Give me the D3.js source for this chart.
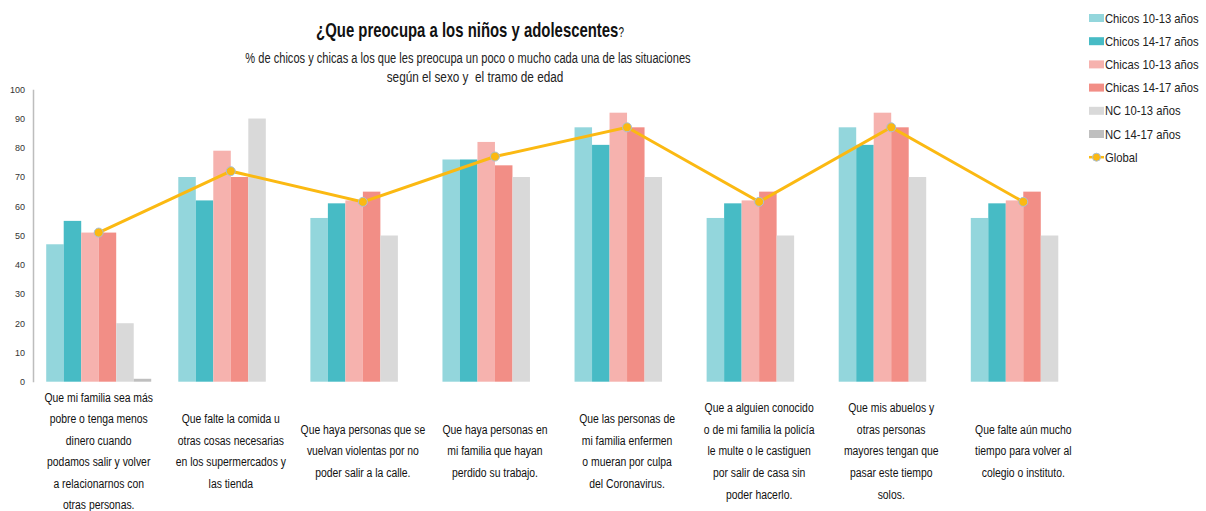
<!DOCTYPE html>
<html>
<head>
<meta charset="utf-8">
<title>¿Que preocupa a los niños y adolescentes?</title>
<style>
body { margin: 0; background: #fff; }
svg { font-family: "Liberation Sans", Arial, sans-serif; }
.tick-label { font-size: 9px; fill: #333; }
.cat-label { font-size: 13.5px; fill: #111; }
.legend text { font-size: 12.5px; fill: #222; }
</style>
</head>
<body>
<script src="https://cdn.jsdelivr.net/npm/d3@7"></script>
<script>

// chart data
const categories = [
  ["Que mi familia sea más", "pobre o tenga menos", "dinero cuando", "podamos salir y volver", "a relacionarnos con", "otras personas."],
  ["Que falte la comida u", "otras cosas necesarias", "en los supermercados y", "las tienda"],
  ["Que haya personas que se", "vuelvan violentas por no", "poder salir a la calle."],
  ["Que haya personas en", "mi familia que hayan", "perdido su trabajo."],
  ["Que las personas de", "mi familia enfermen", "o mueran por culpa", "del Coronavirus."],
  ["Que a alguien conocido", "o de mi familia la policía", "le multe o le castiguen", "por salir de casa sin", "poder hacerlo."],
  ["Que mis abuelos y", "otras personas", "mayores tengan que", "pasar este tiempo", "solos."],
  ["Que falte aún mucho", "tiempo para volver al", "colegio o instituto."]
];
const seriesNames = ["Chicos 10-13 años", "Chicos 14-17 años", "Chicas 10-13 años", "Chicas 14-17 años", "NC 10-13 años", "NC 14-17 años"];
const seriesColors = ["#93d6dc", "#47bbc5", "#f6b2ae", "#f28e86", "#d9d9d9", "#bfbfbf"];

const chicos1013 = [47, 70, 56, 76, 87, 56, 87, 56];
const chicos1417 = [55, 62, 61, 76, 81, 61, 81, 61];
const chicas1013 = [51, 79, 62, 82, 92, 62, 92, 62];
const chicas1417 = [51, 70, 65, 74, 87, 65, 87, 65];
const nc1013     = [20, 90, 50, 70, 70, 50, 70, 50];
const nc1417     = [1, 0, 0, 0, 0, 0, 0, 0];
const globalVals = [51, 72, 61.5, 77, 87, 61.5, 87, 61.5];

const yTicks = [0, 10, 20, 30, 40, 50, 60, 70, 80, 90, 100];

const series = [chicos1013, chicos1417, chicas1013, chicas1417, nc1013, nc1417];

const width = 1206, height = 511;

const svg = d3.select("body").append("svg")
    .attr("width", width)
    .attr("height", height);

// scales
const x0 = d3.scaleBand()
    .domain(d3.range(categories.length))
    .range([33, 1089])
    .paddingInner(0.205)
    .paddingOuter(0.1);

const x1 = d3.scaleBand()
    .domain(d3.range(series.length))
    .range([0, x0.bandwidth()]);

const y = d3.scaleLinear()
    .domain([0, 100])
    .range([381.7, 89.3]);

// y axis
const yAxis = svg.append("g")
    .attr("transform", "translate(33,0)")
    .call(d3.axisLeft(y).tickValues(yTicks).tickSize(0).tickPadding(8));
yAxis.select(".domain").attr("stroke", "#bdbdbd").attr("stroke-width", 1.5);
yAxis.selectAll("text").attr("class", "tick-label").attr("font-family", null).attr("font-size", null);

// bars
const groups = svg.append("g").selectAll("g")
    .data(categories.map((c, i) => i))
    .join("g")
    .attr("transform", i => "translate(" + x0(i) + ",0)");

groups.selectAll("rect")
    .data(i => series.map((s, k) => ({k: k, v: s[i]})))
    .join("rect")
    .attr("x", d => x1(d.k))
    .attr("width", x1.bandwidth())
    .attr("y", d => y(d.v))
    .attr("height", d => y(0) - y(d.v))
    .attr("fill", d => seriesColors[d.k]);

// global line
const cx = i => x0(i) + x0.bandwidth() / 2;
svg.append("path")
    .datum(globalVals)
    .attr("fill", "none")
    .attr("stroke", "#fbb912")
    .attr("stroke-width", 3)
    .attr("d", d3.line().x((d, i) => cx(i)).y(d => y(d)));

svg.append("g").selectAll("circle")
    .data(globalVals)
    .join("circle")
    .attr("cx", (d, i) => cx(i))
    .attr("cy", d => y(d))
    .attr("r", 4.5)
    .attr("fill", "#fbb912")
    .attr("stroke", "#a9bfd6")
    .attr("stroke-width", 1);

// category labels (condensed horizontally)
const lineH = 21.6;
svg.append("g").selectAll("text")
    .data(categories)
    .join("text")
    .attr("class", "cat-label")
    .attr("text-anchor", "middle")
    .attr("transform", (d, i) => "translate(" + cx(i) + "," + (451 - (d.length - 1) * lineH / 2 + 4.5) + ") scale(0.77,1)")
    .selectAll("tspan")
    .data(d => d)
    .join("tspan")
    .attr("x", 0)
    .attr("y", (d, j) => j * lineH)
    .text(d => d);

// title
const title = svg.append("text")
    .attr("transform", "translate(470,37) scale(0.71,1)")
    .attr("text-anchor", "middle")
    .attr("fill", "#111");
title.append("tspan")
    .attr("font-size", "21px")
    .attr("font-weight", "bold")
    .text("¿Que preocupa a los niños y adolescentes");
title.append("tspan")
    .attr("font-size", "14px")
    .text("?");

svg.append("text")
    .attr("transform", "translate(468,63) scale(0.715,1)")
    .attr("text-anchor", "middle")
    .attr("font-size", "15.5px")
    .attr("fill", "#222")
    .text("% de chicos y chicas a los que les preocupa un poco o mucho cada una de las situaciones");
svg.append("text")
    .attr("transform", "translate(475,82) scale(0.76,1)")
    .attr("text-anchor", "middle")
    .attr("font-size", "15.5px")
    .attr("fill", "#222")
    .style("white-space", "pre")
    .text("según el sexo y  el tramo de edad");

// legend
const legend = svg.append("g").attr("class", "legend");
const legendNames = seriesNames.concat(["Global"]);
const ly = i => 18 + i * 23.2;
legendNames.forEach((name, i) => {
  if (i < seriesNames.length) {
    legend.append("rect")
      .attr("x", 1089).attr("y", ly(i) - 4)
      .attr("width", 15).attr("height", 8)
      .attr("fill", seriesColors[i]);
  } else {
    legend.append("line")
      .attr("x1", 1089).attr("x2", 1104)
      .attr("y1", ly(i)).attr("y2", ly(i))
      .attr("stroke", "#fbb912").attr("stroke-width", 2.5);
    legend.append("circle")
      .attr("cx", 1096.5).attr("cy", ly(i)).attr("r", 4)
      .attr("fill", "#fbb912").attr("stroke", "#a9bfd6");
  }
  legend.append("text")
    .attr("transform", "translate(1105," + (ly(i) + 4.5) + ") scale(0.9,1)")
    .text(name);
});

</script>
</body>
</html>
